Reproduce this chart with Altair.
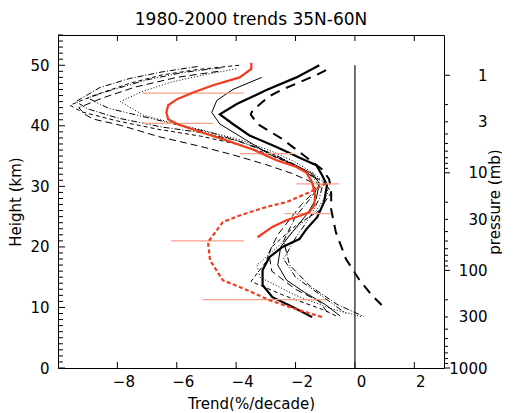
import altair as alt
import pandas as pd
import numpy as np

TITLE = "1980-2000 trends 35N-60N"
FONT = "DejaVu Sans"
W, H = 386, 333

# ---- curves (x = trend %/decade, y = height km) ----
thick_solid_x = [-1.2, -1.97, -2.98, -3.98, -4.55, -4.11, -3.55, -2.64, -1.77, -1.30, -1.10, -0.94, -1.04, -1.27, -1.64, -1.87, -2.44, -2.88, -3.11, -3.11, -2.78, -2.11, -1.44]
thick_solid_y = [50.0, 48.0, 45.9, 43.6, 41.9, 40.3, 38.4, 36.5, 34.5, 33.5, 31.8, 30.2, 27.4, 24.9, 22.9, 21.3, 20.0, 18.3, 16.2, 13.7, 11.7, 10.1, 8.4]

thin_solid_x = [-3.14, -4.11, -4.65, -4.82, -4.55, -3.88, -2.88, -2.0, -1.4, -1.2, -1.3, -1.6, -2.1, -2.5, -2.6, -2.3, -1.7, -1.0, -0.5]
thin_solid_y = [48.0, 46.0, 44.2, 42.2, 40.3, 38.3, 35.3, 33.5, 32.0, 30.5, 28.0, 25.5, 22.5, 20.0, 17.0, 14.5, 12.5, 10.5, 8.6]

long_dash_x = [-0.97, -1.30, -1.87, -2.44, -2.88, -3.44, -3.51, -3.28, -2.44, -1.77, -1.10, -0.87, -0.80, -0.80, -0.64, -0.30, 0.13, 0.57, 0.90]
long_dash_y = [49.2, 48.4, 47.2, 46.0, 44.9, 42.6, 41.9, 40.3, 37.8, 35.3, 32.8, 31.2, 29.4, 26.2, 22.4, 18.0, 14.7, 12.0, 10.4]

dashdot_x = [-5.3, -6.5, -7.6, -8.6, -9.4, -9.0, -8.0, -6.5, -5.2, -4.0, -2.8, -2.0, -1.4, -1.2, -1.5, -2.0, -2.4, -2.2, -1.5, -0.6, 0.3]
dashdot_y = [49.8, 48.9, 47.8, 46.3, 44.0, 42.8, 41.3, 39.8, 38.9, 37.6, 35.4, 33.5, 31.5, 30.0, 28.0, 25.0, 21.0, 17.0, 13.5, 10.5, 8.5]

dashed_x = [-3.9, -5.3, -6.5, -7.6, -8.8, -9.6, -9.2, -8.0, -6.6, -5.2, -4.0, -3.0, -2.2, -1.5, -1.0, -0.8, -1.2, -2.0, -2.8, -3.0, -3.5, -2.4, -1.0, -0.6]
dashed_y = [50.0, 49.3, 48.4, 47.0, 45.0, 43.4, 42.3, 40.8, 39.4, 38.3, 37.0, 35.5, 33.8, 32.0, 30.5, 29.0, 26.0, 23.5, 20.0, 17.5, 14.3, 12.0, 9.5, 8.5]

dotted_x = [-4.0, -5.0, -6.2, -7.2, -7.9, -7.1, -6.0, -4.9, -3.8, -2.8, -2.0, -1.4, -1.0, -0.9, -1.3, -2.0, -2.6, -3.3, -3.2, -2.0, -0.8, 0.2]
dotted_y = [49.4, 48.5, 47.2, 45.6, 44.0, 41.7, 40.3, 39.0, 37.6, 35.8, 34.0, 32.2, 30.5, 29.0, 26.0, 23.0, 20.0, 17.0, 15.0, 12.0, 9.8, 8.5]

lowdash_x = [-4.6, -6.0, -7.4, -8.5, -9.3, -9.1, -8.8, -7.9, -6.6, -5.2, -4.1, -3.0, -2.1, -1.5, -1.3, -1.8, -2.6, -2.9, -2.8, -2.0, -1.2, -0.9]
lowdash_y = [49.0, 48.0, 46.4, 44.6, 43.0, 41.9, 41.1, 40.1, 38.2, 36.6, 35.2, 33.6, 32.1, 30.8, 29.5, 27.0, 22.0, 19.0, 16.0, 13.0, 11.0, 9.0]

dashdotdot_x = [-4.5, -5.8, -7.0, -8.2, -9.0, -8.3, -7.2, -6.0, -4.8, -3.6, -2.6, -1.8, -1.3, -1.1, -1.2, -1.5, -2.0, -2.4, -2.0, -1.0, -0.3]
dashdotdot_y = [49.6, 48.8, 47.6, 45.9, 44.6, 42.9, 41.6, 40.2, 38.8, 37.0, 35.0, 33.0, 31.2, 30.0, 28.0, 25.0, 21.5, 18.0, 15.0, 11.5, 9.0]

red_solid_x = [-3.49, -3.49, -3.88, -4.78, -5.45, -5.99, -6.29, -6.35, -6.29, -5.99, -5.45, -4.45, -3.44, -2.64, -1.97, -1.64, -1.44, -1.34, -1.37, -1.54, -1.87, -2.31, -2.78, -3.28]
red_solid_y = [50.4, 49.4, 48.0, 46.7, 45.5, 44.4, 43.4, 42.2, 41.1, 40.3, 39.4, 37.8, 36.1, 34.3, 33.2, 32.3, 30.7, 28.5, 26.9, 25.7, 25.1, 24.4, 23.3, 21.6]

red_dash_x = [-0.97, -1.54, -2.31, -2.98, -3.88, -4.45, -4.78, -4.95, -4.88, -4.45, -3.55, -2.88, -1.97, -1.10]
red_dash_y = [30.5, 29.0, 27.4, 26.6, 25.2, 24.1, 21.9, 20.8, 17.8, 14.5, 12.7, 11.2, 9.7, 8.4]

# error bars
err_y = [45.4, 40.4, 35.4, 30.4, 25.5, 21.0, 11.3]
err_lo = [-7.16, -7.16, -3.88, -1.97, -2.37, -6.19, -5.12]
err_hi = [-3.75, -4.78, -2.04, -0.54, -0.80, -3.75, -0.97]

# axes
x_ticks = [-8, -6, -4, -2, 0, 2]
y_ticks = [0, 10, 20, 30, 40, 50]
y_minor = [v for v in range(0, 56) if v % 10 != 0]
p_labels = [1, 3, 10, 30, 100, 300, 1000]
p_major = [1, 10, 100, 1000]
p_minor = [m * d for d in [1, 10, 100] for m in range(2, 10)]
SCALE_H = 7.0


def ph(p):
    return SCALE_H * np.log(1000.0 / p)


xs = alt.Scale(domain=[-10, 3], nice=False, zero=False)
ys = alt.Scale(domain=[0, 55], nice=False, zero=False)
X = alt.X("x:Q", scale=xs, axis=alt.Axis(title="Trend(%/decade)", values=x_ticks, tickSize=0, domain=False,
                                         grid=False, labelPadding=6, titlePadding=7, labelOffset=6))
Y = alt.Y("y:Q", scale=ys, axis=alt.Axis(title="Height (km)", values=y_ticks, tickSize=0, domain=False,
                                         grid=False, labelPadding=9, titlePadding=6))


def curve(xv, yv, color, width, dash=None):
    df = pd.DataFrame({"x": xv, "y": yv, "i": range(len(xv))})
    kw = dict(color=color, strokeWidth=width, clip=True)
    if dash:
        kw["strokeDash"] = dash
    return alt.Chart(df).mark_line(**kw).encode(x=X, y=Y, order="i:Q")


layers = []
# inward ticks
layers.append(alt.Chart(pd.DataFrame({"x": x_ticks})).mark_rule(color="black").encode(
    x=X, y=alt.value(H), y2=alt.value(H - 6)))
layers.append(alt.Chart(pd.DataFrame({"x": x_ticks})).mark_rule(color="black").encode(
    x=X, y=alt.value(0), y2=alt.value(6)))
layers.append(alt.Chart(pd.DataFrame({"y": y_ticks})).mark_rule(color="black").encode(
    y=Y, x=alt.value(0), x2=alt.value(7)))
layers.append(alt.Chart(pd.DataFrame({"y": y_minor})).mark_rule(color="black").encode(
    y=Y, x=alt.value(0), x2=alt.value(5)))

layers += [
    curve(dashdot_x, dashdot_y, "black", 1, [6, 2, 1, 2]),
    curve(dashed_x, dashed_y, "black", 1, [4, 3]),
    curve(dotted_x, dotted_y, "black", 1, [1, 2]),
    curve(lowdash_x, lowdash_y, "black", 1, [7, 4]),
    curve(dashdotdot_x, dashdotdot_y, "black", 1, [6, 2, 1, 2, 1, 2]),
    curve(thin_solid_x, thin_solid_y, "black", 1),
    curve(thick_solid_x, thick_solid_y, "black", 2.2),
    curve(long_dash_x, long_dash_y, "black", 2, [10, 7]),
]

# vertical zero line
layers.append(alt.Chart(pd.DataFrame({"x": [0], "y": [0], "y2": [50]})).mark_rule(
    color="#222222", strokeWidth=1.3).encode(x=X, y=Y, y2="y2:Q"))

# error bars
layers.append(alt.Chart(pd.DataFrame({"x": err_lo, "x2": err_hi, "y": err_y})).mark_rule(
    color="#f8a08c", strokeWidth=1.2).encode(x=X, x2="x2:Q", y=Y))

layers += [
    curve(red_solid_x, red_solid_y, "#f23c1c", 2.2),
    curve(red_dash_x, red_dash_y, "#f23c1c", 2.2, [4, 2.5]),
]

main = alt.layer(*layers)

# right pressure axis
RY = alt.Y("h:Q", scale=ys, axis=alt.Axis(orient="right", title="pressure (mb)", titleAngle=270,
                                          titleX=50, titleY=H / 2, titleAlign="center",
                                          titleBaseline="middle",
                                          values=[float(ph(p)) for p in p_labels],
                                          labelExpr="format(round(1000*exp(-datum.value/7)), 'd')",
                                          labelAlign="right",
                                          tickSize=0, domain=False, grid=False, labelPadding=43))
r_major = alt.Chart(pd.DataFrame({"h": [float(ph(p)) for p in p_major]})).mark_rule(color="black").encode(
    y=RY, x=alt.value(W), x2=alt.value(W + 6))
r_minor = alt.Chart(pd.DataFrame({"h": [float(ph(p)) for p in p_minor]})).mark_rule(color="black").encode(
    y=RY, x=alt.value(W), x2=alt.value(W + 4))
right = alt.layer(r_major, r_minor)

chart = alt.layer(main, right).resolve_scale(y="independent").properties(
    width=W, height=H,
    padding={"left": 0, "top": 2, "right": 0, "bottom": 0},
    title=alt.TitleParams(TITLE, font=FONT, fontSize=17, fontWeight="normal", offset=6, color="black"),
).configure_view(stroke="black", strokeWidth=1).configure_axis(
    labelFont=FONT, titleFont=FONT, labelFontSize=15, titleFontSize=15, titleFontWeight="normal",
    labelColor="black", titleColor="black",
)

chart.save("out.html", embed_options={"renderer": "svg", "actions": False})
